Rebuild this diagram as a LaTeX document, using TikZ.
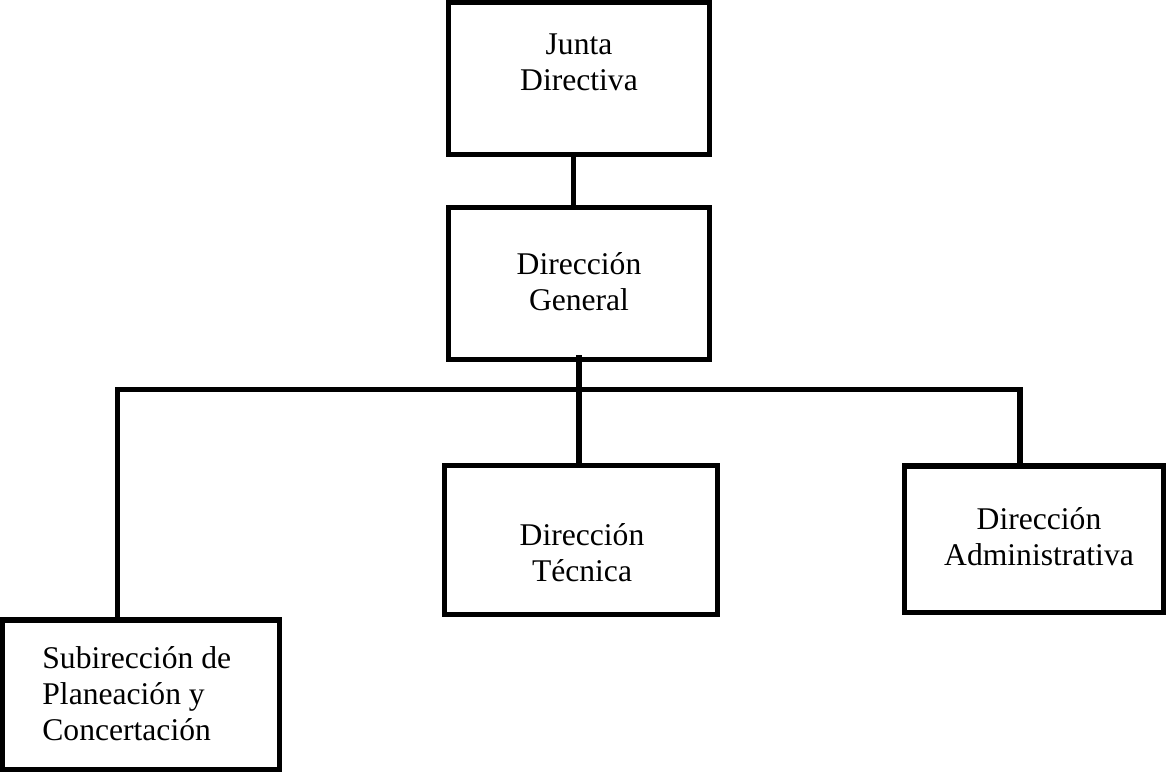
\documentclass[tikz,border=0pt]{standalone}
\usepackage{fontspec}
\setmainfont{Liberation Serif}
\usetikzlibrary{positioning, calc}

\begin{document}
\begin{tikzpicture}[
        x=0.5pt, y=-0.5pt,
        orgbox/.style={draw=black, line width=2.75pt, fill=white, inner sep=0pt},
        link/.style={draw=black, line width=2.75pt},
        boxtext/.style={font=\fontsize{15.8}{18}\selectfont, align=center, inner sep=0pt}
    ]
        \useasboundingbox (0,0) rectangle (1166,773);

        % boxes
        \node[orgbox, minimum width=130.5pt, minimum height=76pt] (junta) at (579,78.5) {};
        \node[orgbox, minimum width=130.5pt, minimum height=76pt] (dg) at (579,283.5) {};
        \node[orgbox, minimum width=136.5pt, minimum height=74.5pt] (tec) at (581,540) {};
        \node[orgbox, minimum width=129.5pt, minimum height=73.25pt] (admin) at (1034,539.25) {};
        \node[orgbox, minimum width=138.5pt, minimum height=74.75pt] (subdir) at (141,694.75) {};

        % texts
        \node[boxtext] (junta-txt) at (579,62.5) {Junta\\Directiva};
        \node[boxtext] (dg-txt) at (579,282) {Dirección\\General};
        \node[boxtext] (tec-txt) at (582,553) {Dirección\\Técnica};
        \node[boxtext] (admin-txt) at (1039,536.5) {Dirección\\Administrativa};
        \node[boxtext, align=left, anchor=west] (subdir-txt) at (42,694) {Subirección de\\Planeación y\\Concertación};

        % links
        \coordinate (busL) at (117.5,389.5);
        \coordinate (busR) at (1020,389.5);
        \draw[link] ([xshift=-2.75pt]junta.south) -- ([xshift=-2.75pt]junta.south |- dg.north);
        \draw[link] ([yshift=3.5pt]dg.south) -- (dg.south |- tec.north);
        \draw[link] (busL |- subdir.north) -- (busL) -- (busR) -- (busR |- admin.north);
\end{tikzpicture}
\end{document}
